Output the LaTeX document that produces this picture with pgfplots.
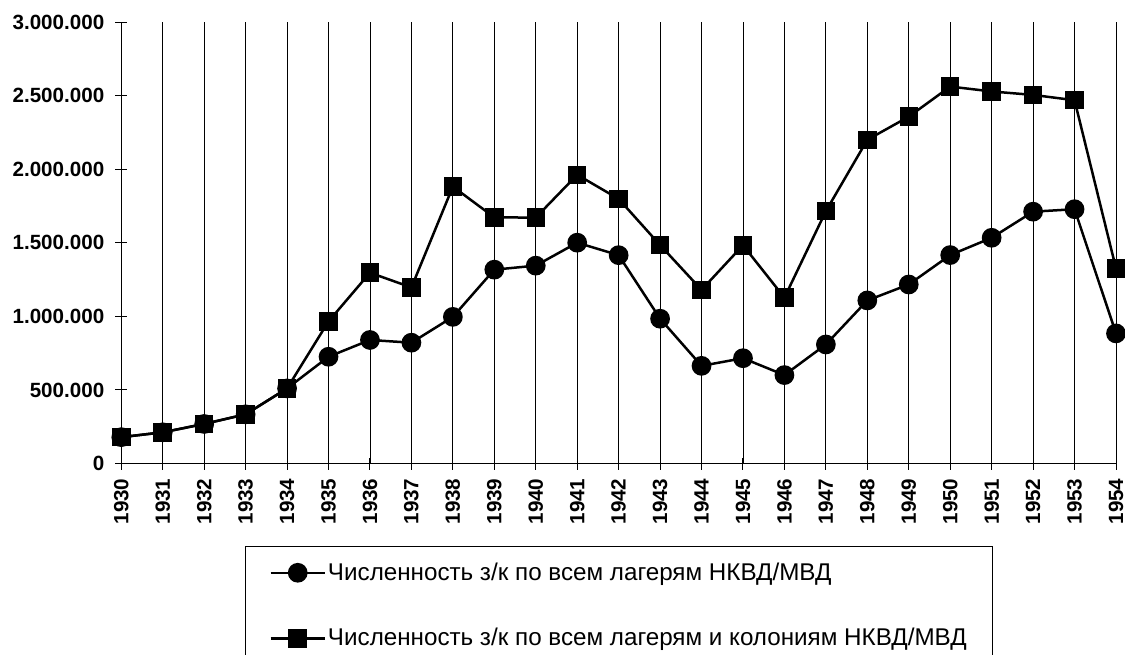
\documentclass[border=0pt]{standalone}
\usepackage{fontspec}
\setmainfont{Liberation Sans}
\usepackage{pgfplots}
\pgfplotsset{compat=1.18}
\begin{document}
\begin{tikzpicture}
\begin{scope}
\clip (-60.65pt,-95.25pt) rectangle (501.85pt,231.75pt);
\begin{axis}[
  scale only axis,
  width=497.35pt, height=220.75pt,
  xmin=1930, xmax=1954, ymin=0, ymax=3000000,
  axis lines=left,
  axis line style={-, black, line width=0.5pt},
  xtick={1930,1931,1932,1933,1934,1935,1936,1937,1938,1939,1940,1941,1942,1943,1944,1945,1946,1947,1948,1949,1950,1951,1952,1953,1954},
  xticklabels={1930,1931,1932,1933,1934,1935,1936,1937,1938,1939,1940,1941,1942,1943,1944,1945,1946,1947,1948,1949,1950,1951,1952,1953,1954},
  ytick={0,500000,1000000,1500000,2000000,2500000,3000000},
  scaled y ticks=false,
  /pgf/number format/assume math mode=true,
  tick label style={font=\fontsize{10.3}{12}\selectfont\bfseries},
  yticklabel style={xshift=-2pt, /pgf/number format/.cd, fixed, 1000 sep={.}},
  xticklabel style={rotate=90, anchor=east, xshift=-1pt},
  tick align=center,
  major tick length=6pt,
  tick style={black, line width=0.5pt},
  xmajorgrids,
  grid style={black, line width=0.45pt},
  clip=false,
  legend cell align=left,
  legend style={at={(0.12436,-0.18686)}, anchor=north west,
    draw=black, line width=0.5pt,
    font=\fontsize{12.1}{13.5}\selectfont,
    row sep=18.5pt, inner xsep=12pt, inner ysep=6pt,
    nodes={inner xsep=1pt}},
  legend image code/.code={\draw[mark repeat=2,mark phase=2,#1] plot coordinates {(0pt,0pt) (13.5pt,0pt) (27pt,0pt)};},
]
\addplot[black, line width=1.25pt, mark=*, mark size=4.3pt, mark options={fill=black, draw=black, solid}] coordinates {
(1930,179000) (1931,212000) (1932,268700) (1933,334300) (1934,510307)
(1935,725483) (1936,839406) (1937,820881) (1938,996367) (1939,1317195)
(1940,1344408) (1941,1500524) (1942,1415596) (1943,983974) (1944,663594)
(1945,715506) (1946,600897) (1947,808839) (1948,1108057) (1949,1216361)
(1950,1416300) (1951,1533767) (1952,1711202) (1953,1727970) (1954,884040)
};
\addlegendentry{Численность з/к по всем лагерям НКВД/МВД}
\addplot[black, line width=1.25pt, mark=square*, mark size=4pt, mark options={fill=black, draw=black, solid}] coordinates {
(1930,179000) (1931,212000) (1932,268700) (1933,334300) (1934,510307)
(1935,965742) (1936,1296494) (1937,1196369) (1938,1881570) (1939,1672438)
(1940,1671000) (1941,1962000) (1942,1798000) (1943,1484182) (1944,1179819)
(1945,1483000) (1946,1127000) (1947,1715000) (1948,2199535) (1949,2356685)
(1950,2561351) (1951,2528146) (1952,2504514) (1953,2468524) (1954,1325000)
};
\addlegendentry{Численность з/к по всем лагерям и колониям НКВД/МВД}
\end{axis}
\end{scope}
\pgfresetboundingbox
\path[use as bounding box] (-60.65pt,-95.25pt) rectangle (501.85pt,231.75pt);
\end{tikzpicture}
\end{document}
